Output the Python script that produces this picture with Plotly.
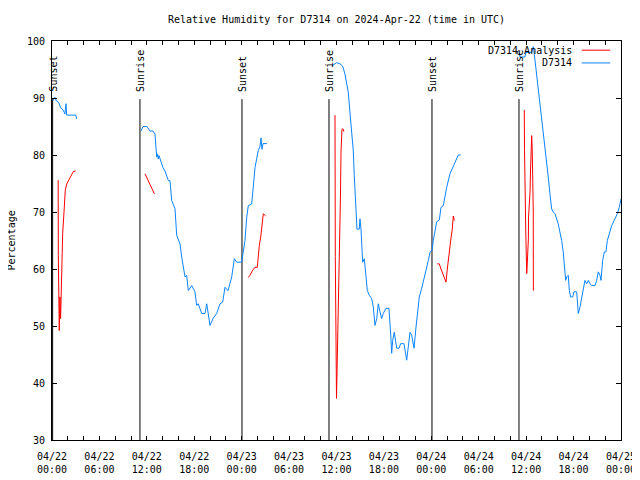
import plotly.graph_objects as go

# ---- data (hours since 2024-04-22 00:00 UTC) ----
obs_t1 = [0.09, 0.38, 0.55, 0.85, 1.1, 1.4, 1.64, 1.72, 1.77, 1.86, 3.0, 3.13]
obs_v1 = [89.5, 90.1, 89.5, 89.2, 88.3, 87.9, 87.2, 88.9, 89.0, 87.0, 87.0, 86.3]

obs_t2 = [11.26, 11.51, 12.02, 12.40, 12.78, 13.03, 13.25, 13.35, 13.45, 13.54, 14.04, 14.30,
          14.72, 14.93, 15.15, 15.31, 15.56, 15.78, 16.20, 16.41, 16.83, 17.04, 17.25, 17.68,
          18.09, 18.31, 18.51, 18.94, 19.36, 19.58, 19.74, 19.99, 20.37, 20.84, 21.26, 21.60,
          21.89, 22.27, 22.74, 23.07, 23.37, 24.00, 24.13, 24.42, 24.64, 24.84, 25.27, 25.47,
          25.69, 26.10, 26.32, 26.45, 26.57, 26.70, 27.20]
obs_v2 = [84.2, 85.0, 85.0, 84.2, 84.2, 83.7, 79.6, 80.2, 79.3, 79.9, 77.8, 77.2,
          75.5, 75.5, 72.0, 71.4, 70.6, 65.9, 64.4, 62.1, 58.6, 58.9, 56.2, 57.1,
          56.0, 53.6, 53.9, 52.2, 52.2, 53.9, 52.2, 50.1, 51.3, 52.2, 53.9, 54.2,
          56.8, 56.2, 58.6, 61.8, 61.2, 61.2, 62.4, 65.0, 69.1, 71.1, 71.4, 74.9,
          77.8, 80.8, 81.5, 83.0, 81.0, 82.0, 82.0]

obs_t3 = [35.39, 36.02, 36.44, 36.78, 37.07, 37.49, 37.70, 37.92, 38.12, 38.25, 38.42, 38.55,
          38.59, 38.88, 38.97, 39.10, 39.19, 39.31, 39.52, 39.73, 39.90, 40.15, 40.45, 40.66,
          40.87, 41.09, 41.29, 41.50, 41.72, 41.92, 42.26, 42.64, 42.77, 42.89, 42.98, 43.11,
          43.31, 43.62, 43.91, 44.12, 44.54, 44.67, 44.88, 45.08, 45.30, 45.51, 45.81, 46.06,
          46.22, 46.48, 46.78, 47.20, 47.41, 47.62, 47.83, 48.12, 48.25, 48.46, 48.68, 49.01,
          49.22, 49.51, 49.94, 50.36, 50.78, 51.41, 51.72]
obs_v3 = [95.6, 96.2, 96.0, 95.6, 94.2, 91.0, 87.5, 84.2, 80.8, 76.4, 72.6, 69.1,
          67.0, 67.0, 68.8, 67.0, 63.2, 61.2, 61.8, 58.3, 56.2, 55.4, 54.8, 53.3,
          50.1, 51.3, 53.9, 52.5, 51.3, 52.2, 53.1, 53.1, 51.0, 47.8, 45.2, 47.5,
          48.9, 46.1, 46.1, 46.9, 46.9, 45.4, 44.0, 46.3, 48.9, 48.4, 46.1, 49.8,
          51.6, 55.1, 56.6, 58.9, 60.1, 61.5, 62.9, 63.4, 65.0, 66.5, 68.3, 68.6,
          70.8, 71.1, 74.3, 76.7, 78.1, 80.0, 80.0]

obs_t4 = [59.13, 59.22, 59.85, 59.97, 60.70, 60.90, 61.03, 61.33, 61.53, 61.75, 61.96, 62.17,
          62.38, 62.60, 62.80, 63.01, 63.23, 63.43, 63.64, 64.06, 64.28, 64.49, 64.69, 64.91,
          65.00, 65.12, 65.33, 65.46, 65.63, 65.89, 66.05, 66.39, 66.47, 66.60, 66.81, 67.03,
          67.23, 67.44, 67.66, 67.86, 68.08, 68.29, 68.71, 68.92, 69.13, 69.34, 69.47, 69.68,
          69.89, 70.10, 70.27, 70.61, 70.82, 71.24, 71.53, 71.78, 71.96, 72.0]
obs_v4 = [98.0, 97.2, 97.2, 98.0, 98.0, 99.0, 97.7, 94.2, 91.3, 88.3, 86.0, 83.7,
          81.3, 79.0, 76.1, 73.2, 70.5, 70.0, 69.7, 67.9, 66.5, 65.0, 63.0, 59.8,
          58.0, 58.6, 58.9, 56.2, 55.1, 55.1, 56.0, 56.0, 54.8, 52.2, 53.3, 54.8,
          56.8, 58.0, 57.4, 58.0, 57.4, 57.1, 57.1, 58.0, 59.5, 58.9, 58.0, 61.5,
          63.0, 63.0, 65.0, 66.5, 67.6, 68.8, 69.7, 70.8, 72.0, 72.3]

ana_t1 = [0.78, 0.80, 0.92, 1.00, 1.09, 1.22, 1.35, 1.52, 1.68, 1.86, 2.28, 2.70, 3.00]
ana_v1 = [75.6, 62.4, 49.2, 55.1, 51.3, 62.4, 66.2, 70.0, 73.8, 74.9, 76.1, 77.1, 77.2]

ana_t2 = [11.77, 12.19, 12.62, 12.95]
ana_v2 = [76.7, 75.5, 74.3, 73.2]

ana_t3 = [24.84, 25.05, 25.40, 25.69, 25.98, 26.10, 26.23, 26.41, 26.53, 26.74, 26.87, 27.04]
ana_v3 = [58.5, 58.9, 59.8, 60.3, 60.3, 62.6, 64.1, 65.6, 67.0, 69.7, 69.5, 69.3]

ana_t4 = [35.81, 35.85, 36.00, 36.19, 36.25, 36.35, 36.44, 36.50, 36.57, 36.69, 36.82, 36.94]
ana_v4 = [87.0, 62.2, 37.3, 49.2, 57.1, 63.2, 65.0, 72.6, 80.5, 84.5, 84.6, 84.1]

ana_t5 = [48.75, 49.01, 49.22, 49.44, 49.64, 49.86, 50.02, 50.15, 50.36, 50.45, 50.65, 50.78, 50.91]
ana_v5 = [60.9, 60.9, 60.0, 59.2, 58.3, 57.7, 60.0, 61.8, 63.5, 65.0, 67.0, 69.3, 68.5]

ana_t6 = [59.76, 59.79, 59.95, 60.07, 60.15, 60.28, 60.30, 60.49, 60.55, 60.70, 60.77, 60.90, 60.91]
ana_v6 = [87.9, 81.0, 66.5, 59.2, 61.2, 65.3, 69.1, 73.5, 77.2, 83.4, 80.8, 70.0, 56.2]

event_t = [0.08, 11.13, 24.04, 35.05, 48.08, 59.09]
event_label = ["Sunset", "Sunrise", "Sunset", "Sunrise", "Sunset", "Sunrise"]
event_top = 89.8

x_tickvals = [0, 6, 12, 18, 24, 30, 36, 42, 48, 54, 60, 66, 72]
x_ticktext = ["04/22<br>00:00", "04/22<br>06:00", "04/22<br>12:00", "04/22<br>18:00",
              "04/23<br>00:00", "04/23<br>06:00", "04/23<br>12:00", "04/23<br>18:00",
              "04/24<br>00:00", "04/24<br>06:00", "04/24<br>12:00", "04/24<br>18:00",
              "04/25<br>00:00"]
y_tickvals = [30, 40, 50, 60, 70, 80, 90, 100]

title_text = "Relative Humidity for D7314 on 2024-Apr-22 (time in UTC)"
ana_name = "D7314 Analysis"
obs_name = "D7314"
ana_color = "#ff0000"
obs_color = "#0a84ff"

FONT = "DejaVu Sans Mono"


def join(segs_t, segs_v):
    xs, ys = [], []
    for t, v in zip(segs_t, segs_v):
        if xs:
            xs.append(None)
            ys.append(None)
        xs.extend(t)
        ys.extend(v)
    return xs, ys


fig = go.Figure()

# event lines
ex, ey = [], []
for t in event_t:
    ex += [t, t, None]
    ey += [30, event_top, None]
fig.add_trace(go.Scatter(x=ex, y=ey, mode="lines", line=dict(color="black", width=1),
                         showlegend=False, hoverinfo="skip"))

ax, ay = join([ana_t1, ana_t2, ana_t3, ana_t4, ana_t5, ana_t6],
              [ana_v1, ana_v2, ana_v3, ana_v4, ana_v5, ana_v6])
fig.add_trace(go.Scatter(x=ax, y=ay, mode="lines", name=ana_name,
                         line=dict(color=ana_color, width=1), showlegend=False))

ox, oy = join([obs_t1, obs_t2, obs_t3, obs_t4], [obs_v1, obs_v2, obs_v3, obs_v4])
fig.add_trace(go.Scatter(x=ox, y=oy, mode="lines", name=obs_name,
                         line=dict(color=obs_color, width=1), showlegend=False))

annotations = []
for t, lab in zip(event_t, event_label):
    annotations.append(dict(x=t, y=event_top + 0.9, xref="x", yref="y", text=lab,
                            textangle=-90, showarrow=False, xanchor="center",
                            yanchor="bottom", font=dict(family=FONT, size=10, color="black")))

# custom legend (text left, line sample right, like gnuplot)
leg_items = [(ana_name, ana_color, 0.977), (obs_name, obs_color, 0.945)]
shapes = []
for name, col, yy in leg_items:
    annotations.append(dict(x=0.918, y=yy, xref="paper", yref="paper", text=name,
                            showarrow=False, xanchor="right", yanchor="middle",
                            font=dict(family=FONT, size=10, color="black")))
    shapes.append(dict(type="line", xref="paper", yref="paper", x0=0.931, x1=0.981,
                       y0=yy, y1=yy, line=dict(color=col, width=1)))

annotations.append(dict(x=-0.0703, y=0.5, xref="paper", yref="paper", text="Percentage",
                        textangle=-90, showarrow=False, xanchor="center", yanchor="middle",
                        font=dict(family=FONT, size=10, color="black")))

fig.update_layout(
    width=632, height=472,
    margin=dict(l=44, r=19, t=33, b=40),
    paper_bgcolor="white", plot_bgcolor="white",
    font=dict(family=FONT, size=10, color="black"),
    title=dict(text=title_text, x=0.5, xref="paper", y=(472 - 11) / 472, yanchor="middle",
               font=dict(family=FONT, size=10, color="black")),
    annotations=annotations, shapes=shapes,
    xaxis=dict(range=[0, 72], tickmode="array", tickvals=x_tickvals, ticktext=x_ticktext,
               ticks="inside", ticklen=4, tickcolor="black", showgrid=False, zeroline=False,
               showline=True, linecolor="black", linewidth=1, mirror="ticks",
               ticklabelstandoff=7, automargin=False,
               minor=dict(tickmode="linear", tick0=0, dtick=2, ticks="inside", ticklen=4,
                          tickcolor="black", showgrid=False),
               tickfont=dict(family=FONT, size=10, color="black")),
    yaxis=dict(range=[30, 100], tickmode="array", tickvals=y_tickvals,
               ticks="inside", ticklen=5, tickcolor="black", showgrid=False, zeroline=False,
               showline=True, linecolor="black", linewidth=1, mirror="ticks",
               ticklabelstandoff=4, automargin=False,
               tickfont=dict(family=FONT, size=10, color="black")),
)

fig.write_html("out.html")
